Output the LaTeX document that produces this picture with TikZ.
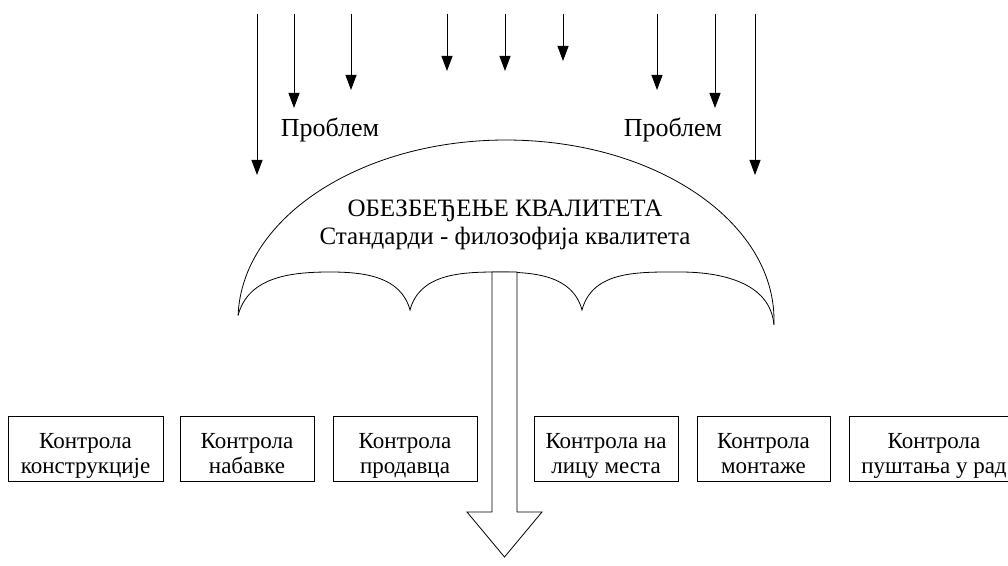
\documentclass[tikz,border=0pt]{standalone}
\usepackage{fontspec}
\setmainfont{Liberation Serif}
\usetikzlibrary{arrows.meta}

\newcommand{\boxlines}[2]{\rule{0pt}{32pt}#1\\#2\rule[-7pt]{0pt}{7pt}}

\tikzset{
    rain/.style={line width=0.9pt, -{Triangle[length=15pt,width=11pt]}},
    ctrl/.style={draw, line width=0.8pt, minimum height=65pt, inner sep=0pt, align=center,
                 font=\fontsize{23}{25}\selectfont},
    lbl/.style={anchor=base, inner sep=0pt}
}

\begin{document}
\begin{tikzpicture}[x=1pt, y=1pt]
                    \useasboundingbox (0,0) rectangle (1008,565);
                    \clip (0,0) rectangle (1008,565);
                    \foreach \x/\y [count=\i] in {257/390, 294/457, 351/475, 447/494, 505/494,
                                                  563/504, 657/475, 715/457, 755/390} {
                        \coordinate (rain\i) at (\x,551);
                        \coordinate (drop\i) at (\x,\y);
                        \draw[rain] (rain\i) -- (drop\i);
                    }
                    \node[lbl, font=\fontsize{26}{30}\selectfont] (prob1) at (330,428) {Проблем};
                    \node[lbl, font=\fontsize{26}{30}\selectfont] (prob2) at (673,428) {Проблем};
                    \draw[line width=0.8pt] (238.1,249.7)
                        arc[start angle=178.5, end angle=-1.5, x radius=268, y radius=180];
                    \draw[line width=0.8pt] (238.1,249.7)
                        to[out=75,in=180] (330,293) to[out=0,in=105] (410,255)
                        to[out=75,in=180] (497,293) to[out=0,in=105] (582,255)
                        to[out=75,in=180] (680,293) to[out=0,in=95] (773.9,240.3);
                    \node[lbl, font=\fontsize{25}{29}\selectfont] (qaTitle) at (505,348)
                        {ОБЕЗБЕЂЕЊЕ КВАЛИТЕТА};
                    \node[lbl, font=\fontsize{25}{29}\selectfont] (qaSub) at (505,320)
                        {Стандарди - филозофија квалитета};
                    \draw[line width=0.8pt, fill=white] (492,293) -- (492,53) -- (467,53) -- (504.5,8)
                        -- (542,53) -- (517,53) -- (517,293) -- cycle;
                    \node[ctrl, minimum width=155pt] (kKonstr) at (85.5,116.5) {\boxlines{Контрола}{конструкције}};
                    \node[ctrl, minimum width=134pt] (kNabav) at (247,116.5) {\boxlines{Контрола}{набавке}};
                    \node[ctrl, minimum width=144pt] (kProd) at (405,116.5) {\boxlines{Контрола}{продавца}};
                    \node[ctrl, minimum width=144pt] (kLice) at (606,116.5) {\boxlines{Контрола на}{лицу места}};
                    \node[ctrl, minimum width=133pt] (kMont) at (763.5,116.5) {\boxlines{Контрола}{монтаже}};
                    \node[ctrl, minimum width=170pt] (kPust) at (934,116.5) {\boxlines{Контрола}{пуштања у рад}};
                \end{tikzpicture}
\end{document}
